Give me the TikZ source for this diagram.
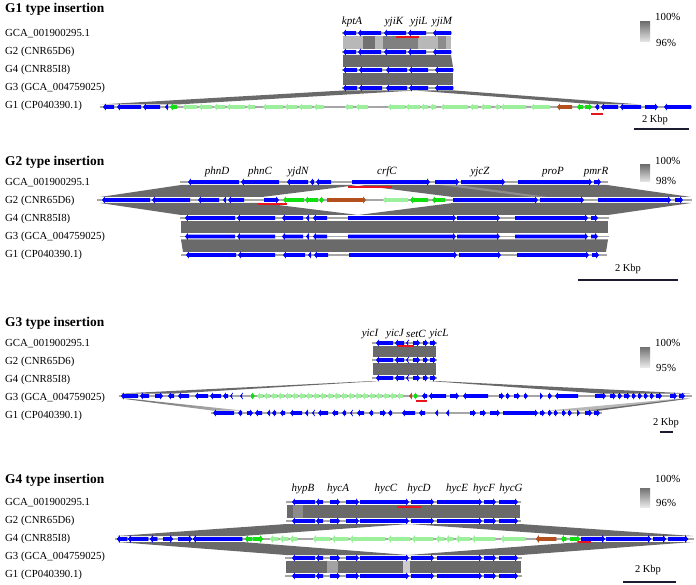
\documentclass[tikz,border=0pt]{standalone}
\usepackage{fontspec}
\setmainfont{Liberation Serif}
\definecolor{geneblue}{HTML}{0000FF}
\definecolor{genegreen}{HTML}{10E010}
\definecolor{genepale}{HTML}{9CF09C}
\definecolor{genebrown}{HTML}{B4501E}
\definecolor{sitered}{HTML}{E8141E}
\definecolor{hitdark}{HTML}{6A6A6A}
\definecolor{hitmid}{HTML}{8C8C8C}
\definecolor{hitlight}{HTML}{B8B8B8}
\definecolor{trackgray}{HTML}{A6A6A6}
\definecolor{barnavy}{HTML}{1C1C30}
\usetikzlibrary{positioning}
\tikzset{
  track/.style={draw=trackgray, line width=1.5pt},
  hit/.style={fill=hitdark},
  site/.style={draw=sitered, line width=1.3pt},
  lbl/.style={font=\fontsize{10.8}{12}\selectfont, anchor=west, inner sep=0pt},
  title/.style={font=\fontsize{13.4}{15}\selectfont\bfseries, anchor=west, inner sep=0pt},
  gname/.style={font=\fontsize{11}{12}\selectfont\itshape, inner sep=0pt},
  pct/.style={font=\fontsize{10.8}{12}\selectfont, anchor=west, inner sep=0pt},
  kbp/.style={font=\fontsize{10.5}{12}\selectfont, inner sep=0pt},
  scalebar/.style={draw=barnavy, line width=1.2pt},
  legbox/.style={top color=hitdark!95, bottom color=gray!18},
}
\newcommand{\gene}[4]{\fill[#4] (#1,#3-1.9) -- ({(#2)-2.8*sign((#2)-(#1))},#3-1.9) -- ({(#2)-2.8*sign((#2)-(#1))},#3-3.4) -- (#2,#3) -- ({(#2)-2.8*sign((#2)-(#1))},#3+3.4) -- ({(#2)-2.8*sign((#2)-(#1))},#3+1.9) -- (#1,#3+1.9) -- cycle;}
\newcommand{\genes}[3]{\foreach \ga/\gb in {#3}{\gene{\ga}{\gb}{#1}{#2}}}
\begin{document}
\begin{tikzpicture}[x=1pt,y=-1pt]
\fill[white] (0,0) rectangle (696,585);
\useasboundingbox (0,0) rectangle (696,585);

\node[title] (title1) at (5,9) {G1 type insertion};
\node[title] (title2) at (5,162) {G2 type insertion};
\node[title] (title3) at (5,323) {G3 type insertion};
\node[title] (title4) at (5,480) {G4 type insertion};
\foreach \pn/\base in {1/34,2/183,3/344,4/503}{
  \foreach \k/\txt [count=\i from 0] in {gca/GCA\_001900295.1, gii/G2 (CNR65D6), giv/G4 (CNR85I8), giii/G3 (GCA\_004759025), gi/G1 (CP040390.1)}
    \node[lbl] (lab\pn\k) at (5,\base+18*\i) {\txt};
}

% G1 panel
\fill[hitlight] (343,36) rectangle (451,49);
\fill[hitdark!95] (363,36) rectangle (375,49);
\fill[hitdark!85] (383,36) rectangle (418,49);
\fill[hitmid] (438,36) rectangle (446,49);
\fill[hit] (343,55) -- (451,55) -- (453,67) -- (343,67) -- cycle;
\fill[hit] (343,73) -- (453,73) -- (453,85) -- (343,85) -- cycle;
\fill[hit] (343,90.5) -- (415,90.5) -- (177,104.5) -- (100,104.5) -- cycle;
\fill[hit] (415,90.5) -- (455,90.5) -- (641,104.5) -- (597,104.5) -- cycle;
\draw[track] (342,33) -- (452,33);
\draw[track] (342,52) -- (452,52);
\draw[track] (342,70) -- (454,70);
\draw[track] (342,88) -- (454,88);
\draw[track] (100,107) -- (692,107);
\genes{33}{geneblue}{356/343, 381/358, 406/384, 426/408, 451/433}
\genes{52}{geneblue}{356/343, 381/358, 406/384, 426/408, 451/433}
\genes{70}{geneblue}{357/343, 382/359, 407/386, 428/409, 453/435}
\genes{88}{geneblue}{357/343, 382/359, 407/386, 428/409, 453/435}
\genes{107}{genepale}{197/183, 212/199, 225/214, 245/227, 255/247, 283/263, 297/285, 312/299, 324/314, 353/345, 368/356, 405/388, 420/406, 428/421, 436/430, 468/441, 478/470, 491/481, 500/495, 526/501, 550/531}
\genes{107}{geneblue}{114/103, 141/117, 160/143, 168/165, 599/595, 618/601, 641/620, 645/658, 691/664}
\genes{107}{genegreen}{177/170, 583/577, 585/592}
\genes{107}{genebrown}{572/557}
\draw[site] (396,37) -- (419,37);
\draw[site] (591,114) -- (603,114);
\foreach \g/\gx in {kptA/352, yjiK/394, yjiL/419, yjiM/442}
  \node[gname] (n1\g) at (\gx,22) {\g};
\shade[legbox] (640,22) rectangle (650,42);
\node[pct] (hi1) at (655,17) {100\%};
\node[pct] (lo1) at (656,43) {96\%};
\draw[scalebar] (634,129) -- (689,129);
\node[kbp] (kb1) at (655,120) {2 Kbp};

% G2 panel
\fill[hit] (181,185) -- (358,185) -- (262,197) -- (100,197) -- cycle;
\fill[hit] (358,185) -- (607,185) -- (691,197) -- (453,197) -- cycle;
\fill[hitmid] (440,185) -- (458,185) -- (548,197) -- (532,197) -- cycle;
\fill[hit] (100,203) -- (262,203) -- (358,215) -- (181,215) -- cycle;
\fill[hit] (453,203) -- (691,203) -- (608,215) -- (358,215) -- cycle;
\fill[hit] (181,221) -- (608,221) -- (608,233.5) -- (181,233.5) -- cycle;
\fill[hit] (181,239.5) -- (608,239.5) -- (606,252) -- (183,252) -- cycle;
\draw[track] (180,182) -- (608,182);
\draw[track] (97,200) -- (692,200);
\draw[track] (180,218) -- (609,218);
\draw[track] (180,236.5) -- (609,236.5);
\draw[track] (181,255) -- (607,255);
\genes{182}{geneblue}{239/188, 279/241, 308/287, 314/310, 331/316, 352/430, 435/459, 461/505, 518/592, 594/601}
\genes{200}{geneblue}{150/102, 190/152, 219/198, 226/223, 244/228, 264/279, 453/538, 540/584, 598/671, 675/683}
\genes{200}{genegreen}{304/283, 318/305, 320/324, 428/410, 445/432}
\genes{200}{genepale}{408/383}
\genes{200}{genebrown}{327/366}
\genes{218}{geneblue}{235/185, 275/237, 303/282, 309/306, 327/313, 348/456, 457/500, 515/588, 591/598}
\genes{236.5}{geneblue}{235/185, 275/237, 303/282, 309/306, 327/313, 348/456, 457/500, 515/588, 591/598}
\genes{255}{geneblue}{236/186, 275/238, 305/283, 311/308, 328/314, 349/457, 459/501, 517/589, 592/599}
\draw[site] (348,187) -- (392,187);
\draw[site] (258,204) -- (287,204);
\foreach \g/\gx in {phnD/217, phnC/260, yjdN/298, crfC/387, yjcZ/480, proP/553, pmrR/596}
  \node[gname] (n2\g) at (\gx,172) {\g};
\shade[legbox] (640,165) rectangle (650,182);
\node[pct] (hi2) at (655,161) {100\%};
\node[pct] (lo2) at (656,181) {98\%};
\draw[scalebar] (578,280) -- (678,280);
\node[kbp] (kb2) at (628,269) {2 Kbp};

% G3 panel
\fill[hit] (373,346) rectangle (436,357);
\fill[hit] (373,363) rectangle (436,375);
\fill[hit] (373,381) -- (380,381) -- (175,393.5) -- (121,393.5) -- cycle;
\fill[hit] (429,381) -- (436,381) -- (690,393.5) -- (600,393.5) -- cycle;
\shade[left color=hitdark, right color=hitlight] (121,398.5) -- (128,398.5) -- (242,410.5) -- (212,410.5) -- cycle;
\fill[hitlight] (680,398.5) -- (690,398.5) -- (600,410.5) -- (548,410.5) -- cycle;
\fill[hit] (684,398.5) -- (690,398.5) -- (600,410.5) -- (588,410.5) -- cycle;
\draw[track] (372,343) -- (437,343);
\draw[track] (372,360) -- (437,360);
\draw[track] (372,378) -- (437,378);
\draw[track] (119,396) -- (692,396);
\draw[track] (211,413) -- (602,413);
\genes{343}{geneblue}{393/376, 404/395, 408/406, 413/420, 423/428, 430/436}
\genes{360}{geneblue}{393/376, 404/395, 408/406, 413/420, 423/428, 430/436}
\genes{378}{geneblue}{393/376, 404/395, 408/406, 413/420, 423/428, 430/436}
\foreach \p in {257,264,...,401} {\gene{\p+6}{\p}{396}{genepale}}
\genes{396}{geneblue}{138/121, 149/140, 155/163, 174/168, 189/178, 208/195, 221/210, 228/223, 232/230, 242/240, 427/422, 446/429, 450/459, 488/463, 499/504, 506/510, 514/520, 524/528, 540/543, 548/552, 578/555, 595/606, 610/616, 618/622, 624/630, 632/636, 638/642, 644/648, 650/654, 656/662, 670/677, 679/685}
\genes{396}{genegreen}{251/255, 414/418}
\genes{396}{genebrown}{412/409}
\genes{413}{geneblue}{234/213, 242/238, 247/253, 262/255, 270/267, 276/272, 285/280, 302/290, 308/305, 314/312, 328/318, 338/332, 346/342, 352/350, 364/357, 373/369, 380/386, 392/388, 415/402, 425/419, 438/435, 449/446, 470/476, 480/486, 490/500, 503/538, 540/545, 548/552, 554/558, 562/566, 568/572, 577/580, 585/592, 594/600}
\draw[site] (398,346) -- (414,346);
\draw[site] (416,401) -- (427,401);
\foreach \g/\gx in {yicI/370, yicJ/395, setC/416, yicL/439}
  \node[gname] (n3\g) at (\gx,334) {\g};
\shade[legbox] (640,347) rectangle (650,367);
\node[pct] (hi3) at (655,343) {100\%};
\node[pct] (lo3) at (656,368) {95\%};
\draw[scalebar] (660,432) -- (673,432);
\node[kbp] (kb3) at (666,423) {2 Kbp};

% G4 panel
\fill[hit] (287,505) rectangle (520,518);
\fill[hitmid] (293,505) rectangle (303,518);
\fill[hit] (287,524) -- (409,524) -- (242,536) -- (117,536) -- cycle;
\fill[hit] (409,524) -- (520,524) -- (693,536) -- (581,536) -- cycle;
\fill[hit] (117,542) -- (242,542) -- (408,555) -- (286,555) -- cycle;
\fill[hit] (581,542) -- (693,542) -- (521,555) -- (408,555) -- cycle;
\fill[hit] (286,561) rectangle (521,573);
\fill[hitmid!80] (327,561) rectangle (338,573);
\fill[hitlight!70] (403,561) rectangle (410,573);
\draw[track] (286,502) -- (521,502);
\draw[track] (286,521) -- (521,521);
\draw[track] (115,539) -- (694,539);
\draw[track] (285,558) -- (522,558);
\draw[track] (285,576) -- (522,576);
\foreach \ty in {502,521,558,576}
  \genes{\ty}{geneblue}{315/292, 323/316, 330/340, 346/359, 360/409, 411/434, 437/482, 484/496, 499/518}
\genes{539}{geneblue}{127/117, 148/128, 157/150, 163/173, 178/192, 242/193, 581/605, 606/651, 653/666, 668/688}
\genes{539}{genepale}{278/270, 288/280, 297/290, 330/313, 348/332, 385/350, 410/388, 433/412, 444/436, 453/446, 470/456, 495/472, 525/501}
\genes{539}{genegreen}{252/245, 253/263, 566/561, 570/580}
\genes{539}{genebrown}{556/536}
\draw[site] (397,507) -- (421,507);
\draw[site] (578,542) -- (591,542);
\foreach \g/\gx in {hypB/303, hycA/338, hycC/386, hycD/419, hycE/457, hycF/484, hycG/511}
  \node[gname] (n4\g) at (\gx,489) {\g};
\shade[legbox] (640,488) rectangle (650,507);
\node[pct] (hi4) at (655,479) {100\%};
\node[pct] (lo4) at (656,503) {96\%};
\draw[scalebar] (623,582) -- (676,582);
\node[kbp] (kb4) at (648,570) {2 Kbp};
\end{tikzpicture}
\end{document}
